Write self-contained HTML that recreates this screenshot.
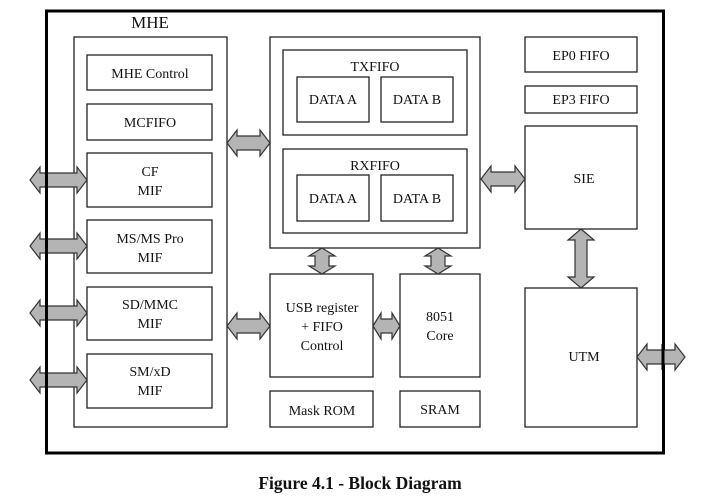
<!DOCTYPE html>
<html><head><style>
body{margin:0;background:#fff}
svg{display:block}
text{font-family:"Liberation Serif",serif;font-size:14px;fill:#111;text-anchor:middle}
rect{fill:#fff;stroke:#222;stroke-width:1.3}
.a{fill:#b4b4b4;stroke:#333;stroke-width:1.2}
</style></head><body>
<svg width="728" height="504" viewBox="0 0 728 504" xmlns="http://www.w3.org/2000/svg">
<rect x="46.5" y="11" width="617" height="442" style="stroke:#000;stroke-width:3"/>
<text x="150" y="28" style="font-size:17px">MHE</text>
<rect x="74" y="37" width="153" height="390"/>
<rect x="87" y="55" width="125" height="35"/><text x="150" y="78">MHE Control</text>
<rect x="87" y="104" width="125" height="36"/><text x="150" y="127">MCFIFO</text>
<rect x="87" y="153" width="125" height="54"/><text x="150" y="176">CF</text><text x="150" y="195">MIF</text>
<rect x="87" y="220" width="125" height="53"/><text x="150" y="243">MS/MS Pro</text><text x="150" y="262">MIF</text>
<rect x="87" y="287" width="125" height="53"/><text x="150" y="309">SD/MMC</text><text x="150" y="328">MIF</text>
<rect x="87" y="354" width="125" height="54"/><text x="150" y="376">SM/xD</text><text x="150" y="395">MIF</text>

<rect x="270" y="37" width="210" height="211"/>
<rect x="283" y="50" width="184" height="85"/><text x="375" y="71">TXFIFO</text>
<rect x="297" y="77" width="72" height="45"/><text x="333" y="104">DATA A</text>
<rect x="381" y="77" width="72" height="45"/><text x="417" y="104">DATA B</text>
<rect x="283" y="149" width="184" height="84"/><text x="375" y="170">RXFIFO</text>
<rect x="297" y="175" width="72" height="46"/><text x="333" y="203">DATA A</text>
<rect x="381" y="175" width="72" height="46"/><text x="417" y="203">DATA B</text>

<rect x="270" y="274" width="103" height="103"/>
<text x="322" y="312">USB register</text><text x="322" y="331">+ FIFO</text><text x="322" y="350">Control</text>
<rect x="400" y="274" width="80" height="103"/>
<text x="440" y="321">8051</text><text x="440" y="340">Core</text>
<rect x="270" y="391" width="103" height="36"/><text x="322" y="415">Mask ROM</text>
<rect x="400" y="391" width="80" height="36"/><text x="440" y="414">SRAM</text>

<rect x="525" y="37" width="112" height="35"/><text x="581" y="60">EP0 FIFO</text>
<rect x="525" y="86" width="112" height="27"/><text x="581" y="104">EP3 FIFO</text>
<rect x="525" y="126" width="112" height="103"/><text x="584" y="183">SIE</text>
<rect x="525" y="288" width="112" height="139"/><text x="584" y="361">UTM</text>

<g class="a">
<polygon class="a" points="30,180 40,167 40,173 77,173 77,167 87,180 77,193 77,187 40,187 40,193"/>
<polygon class="a" points="30,246 40,233 40,239 77,239 77,233 87,246 77,259 77,253 40,253 40,259"/>
<polygon class="a" points="30,313 40,300 40,306 77,306 77,300 87,313 77,326 77,320 40,320 40,326"/>
<polygon class="a" points="30,380 40,367 40,373 77,373 77,367 87,380 77,393 77,387 40,387 40,393"/>
<polygon class="a" points="227,143 237,130 237,136 260,136 260,130 270,143 260,156 260,150 237,150 237,156"/>
<polygon class="a" points="227,326 237,313 237,319 260,319 260,313 270,326 260,339 260,333 237,333 237,339"/>
<polygon class="a" points="373,326 381,313 381,319 392,319 392,313 400,326 392,339 392,333 381,333 381,339"/>
<polygon class="a" points="481,179 491,166 491,172 515,172 515,166 525,179 515,192 515,186 491,186 491,192"/>
<polygon class="a" points="637,357 647,344 647,350 675,350 675,344 685,357 675,370 675,364 647,364 647,370"/>
<polygon class="a" points="322,248 335,256 329,256 329,266 335,266 322,274 309,266 315,266 315,256 309,256"/>
<polygon class="a" points="438,248 451,256 445,256 445,266 451,266 438,274 425,266 431,266 431,256 425,256"/>
<polygon class="a" points="581,229 594,240 587,240 587,277 594,277 581,288 568,277 575,277 575,240 568,240"/>
</g>
<line x1="663" y1="344" x2="663" y2="370" stroke="#000" stroke-width="3"/>
<line x1="46.5" y1="167" x2="46.5" y2="393" stroke="#000" stroke-width="3"/>
<text x="360" y="489" style="font-size:17.5px;font-weight:bold">Figure 4.1 - Block Diagram</text>
</svg>
</body></html>
